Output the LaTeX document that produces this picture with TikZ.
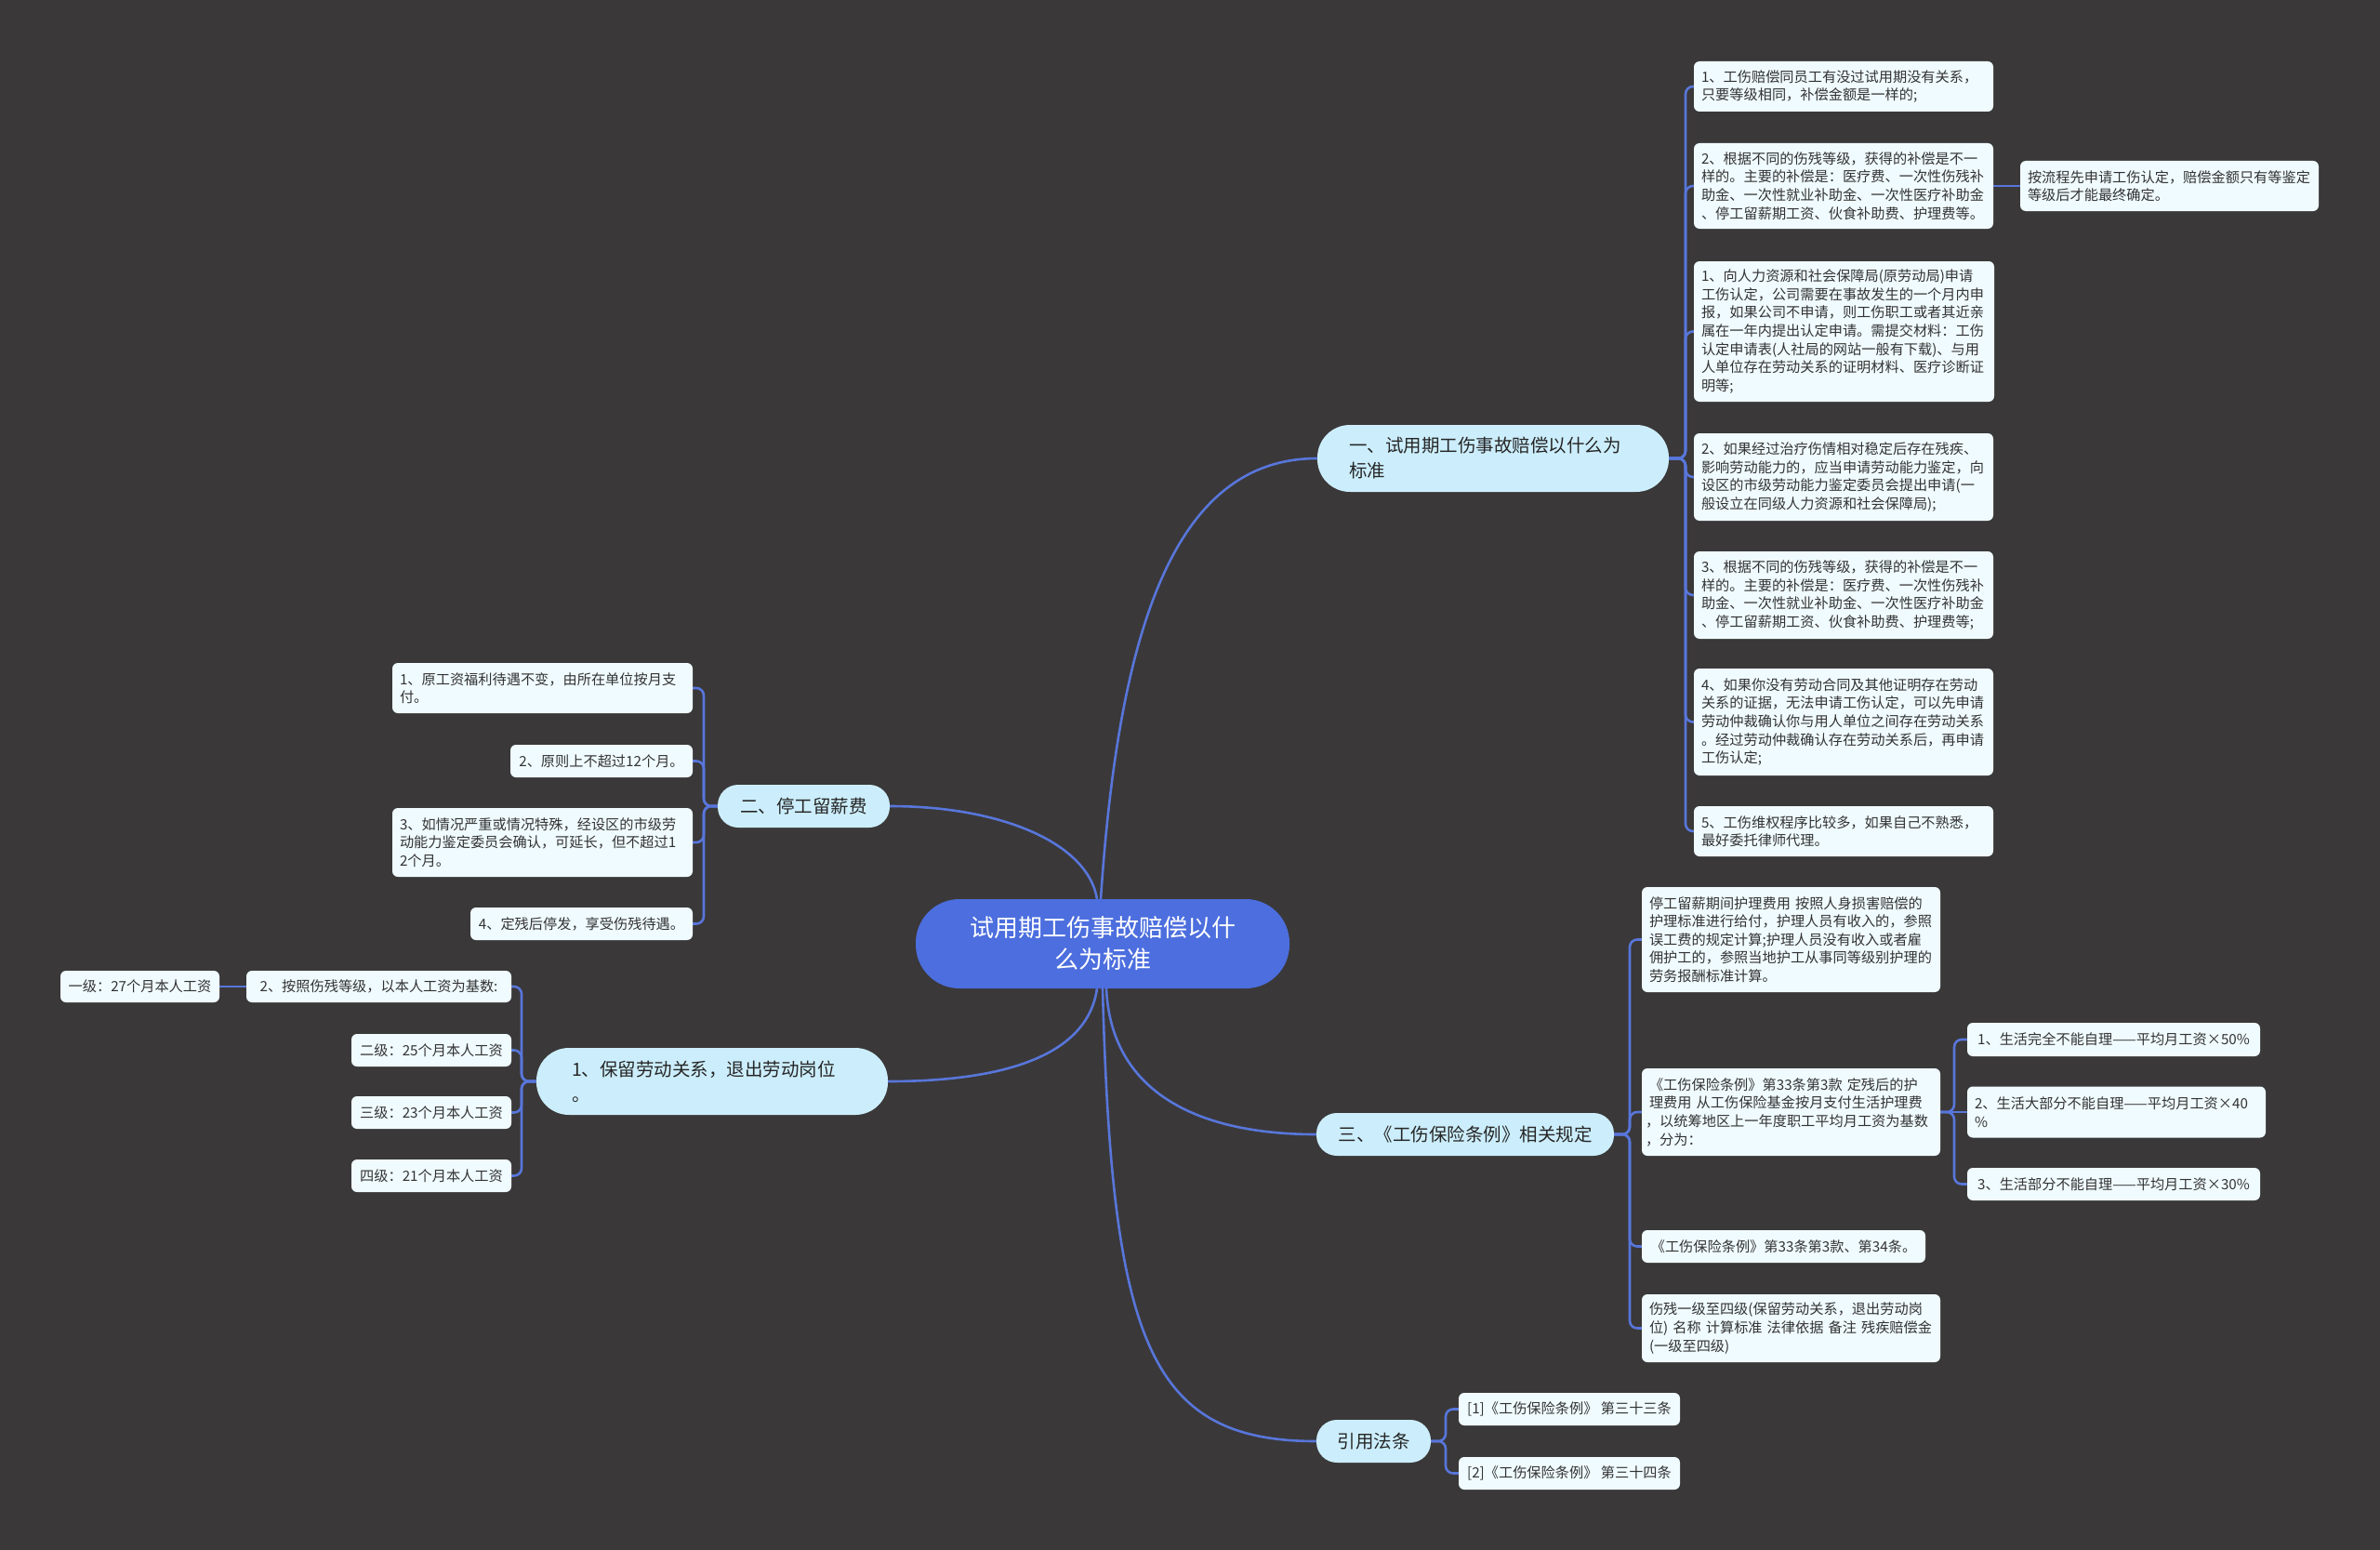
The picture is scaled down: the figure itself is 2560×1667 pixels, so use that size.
\documentclass[tikz,border=0pt]{standalone}
\usepackage{fontspec}
\setmainfont{Noto Sans CJK SC}
\usetikzlibrary{backgrounds}
\definecolor{bgc}{RGB}{58,56,57}
\definecolor{ctr}{RGB}{76,110,222}
\definecolor{brc}{RGB}{204,238,252}
\definecolor{lfc}{RGB}{240,251,255}
\definecolor{lnc}{RGB}{88,118,218}
\definecolor{txc}{RGB}{51,51,51}
\begin{document}
\begin{tikzpicture}[x=1pt,y=-1pt,
  leaf/.style={rectangle, rounded corners=6pt, fill=lfc, text=txc,
    font=\fontsize{15.2}{19.6}\selectfont, inner xsep=8pt, inner ysep=0pt, align=left},
  leafc/.style={leaf, align=center},
  branch/.style={rectangle, fill=brc, text=black!85,
    font=\fontsize{19.5}{27}\selectfont, inner ysep=0pt},
  conn/.style={draw=lnc, line width=2.6pt},
  bk/.style={conn, rounded corners=8pt}]
\useasboundingbox (0,0) rectangle (2560,1667);

% centre
\node[fill=ctr, rounded corners=47pt, minimum width=402pt, minimum height=96pt,
  text=white, font=\fontsize{26}{34}\selectfont, align=center, inner sep=0pt]
  (c) at (1186,1015) {试用期工伤事故赔偿以什\\么为标准};

% branches
\node[branch, rounded corners=35pt, minimum height=72pt, text width=310pt, align=left, inner xsep=34pt]
  (b1) at (1606,493) {一、试用期工伤事故赔偿以什么为\\标准};
\node[branch, rounded corners=22pt, minimum width=185pt, minimum height=46pt]
  (b2) at (864.5,867) {二、停工留薪费};
\node[branch, rounded corners=35pt, minimum height=72pt, text width=302pt, align=left, inner xsep=38pt]
  (b3) at (766,1163) {1、保留劳动关系，退出劳动岗位\\。};
\node[branch, rounded corners=22pt, minimum width=320pt, minimum height=46pt]
  (b4) at (1576,1220) {三、《工伤保险条例》相关规定};
\node[branch, rounded corners=22pt, minimum width=123pt, minimum height=46pt]
  (b5) at (1477.5,1550) {引用法条};

% branch 1 leaves
\node[leaf, text width=306pt, minimum height=54pt] (l1) at (1983,93)
  {1、工伤赔偿同员工有没过试用期没有关系，\\只要等级相同，补偿金额是一样的;};
\node[leaf, text width=306pt, minimum height=92pt] (l2) at (1983,200)
  {2、根据不同的伤残等级，获得的补偿是不一\\样的。主要的补偿是：医疗费、一次性伤残补\\助金、一次性就业补助金、一次性医疗补助金\\、停工留薪期工资、伙食补助费、护理费等。};
\node[leaf, text width=305pt, minimum height=54pt] (s1) at (2333.5,200)
  {按流程先申请工伤认定，赔偿金额只有等鉴定\\等级后才能最终确定。};
\node[leaf, text width=307pt, minimum height=151pt] (l3) at (1983.5,356.5)
  {1、向人力资源和社会保障局(原劳动局)申请\\工伤认定，公司需要在事故发生的一个月内申\\报，如果公司不申请，则工伤职工或者其近亲\\属在一年内提出认定申请。需提交材料：工伤\\认定申请表(人社局的网站一般有下载)、与用\\人单位存在劳动关系的证明材料、医疗诊断证\\明等;};
\node[leaf, text width=306pt, minimum height=94pt] (l4) at (1983,513)
  {2、如果经过治疗伤情相对稳定后存在残疾、\\影响劳动能力的，应当申请劳动能力鉴定，向\\设区的市级劳动能力鉴定委员会提出申请(一\\般设立在同级人力资源和社会保障局);};
\node[leaf, text width=306pt, minimum height=94pt] (l5) at (1983,640)
  {3、根据不同的伤残等级，获得的补偿是不一\\样的。主要的补偿是：医疗费、一次性伤残补\\助金、一次性就业补助金、一次性医疗补助金\\、停工留薪期工资、伙食补助费、护理费等;};
\node[leaf, text width=306pt, minimum height=115pt] (l6) at (1983,776.5)
  {4、如果你没有劳动合同及其他证明存在劳动\\关系的证据，无法申请工伤认定，可以先申请\\劳动仲裁确认你与用人单位之间存在劳动关系\\。经过劳动仲裁确认存在劳动关系后，再申请\\工伤认定;};
\node[leaf, text width=306pt, minimum height=54pt] (l7) at (1983,894)
  {5、工伤维权程序比较多，如果自己不熟悉，\\最好委托律师代理。};

% branch 2 leaves
\node[leaf, text width=307pt, minimum height=54pt] (a1) at (583.5,740)
  {1、原工资福利待遇不变，由所在单位按月支\\付。};
\node[leafc, minimum width=196pt, minimum height=35pt] (a2) at (647,818.5)
  {2、原则上不超过12个月。};
\node[leaf, text width=307pt, minimum height=74pt] (a3) at (583.5,906)
  {3、如情况严重或情况特殊，经设区的市级劳\\动能力鉴定委员会确认，可延长，但不超过1\\2个月。};
\node[leafc, minimum width=239pt, minimum height=35pt] (a4) at (625.5,993.5)
  {4、定残后停发，享受伤残待遇。};

% branch 3 leaves
\node[leafc, minimum width=285pt, minimum height=34pt] (e1) at (407.5,1061)
  {2、按照伤残等级，以本人工资为基数:};
\node[leafc, minimum width=171pt, minimum height=34pt] (e0) at (150.5,1061)
  {一级：27个月本人工资};
\node[leafc, minimum width=172pt, minimum height=35pt] (e2) at (464,1129.5)
  {二级：25个月本人工资};
\node[leafc, minimum width=172pt, minimum height=35pt] (e3) at (464,1196.5)
  {三级：23个月本人工资};
\node[leafc, minimum width=172pt, minimum height=35pt] (e4) at (464,1264.5)
  {四级：21个月本人工资};

% branch 4 leaves
\node[leaf, text width=305pt, minimum height=113pt] (m1) at (1926.5,1010.5)
  {停工留薪期间护理费用 按照人身损害赔偿的\\护理标准进行给付，护理人员有收入的，参照\\误工费的规定计算;护理人员没有收入或者雇\\佣护工的，参照当地护工从事同等级别护理的\\劳务报酬标准计算。};
\node[leaf, text width=313pt, inner xsep=4pt, minimum height=94pt] (m2) at (1926.5,1196)
  {\hspace{4pt}《工伤保险条例》第33条第3款 定残后的护\\\hspace{4pt}理费用 从工伤保险基金按月支付生活护理费\\，以统筹地区上一年度职工平均月工资为基数\\，分为：};
\node[leafc, minimum width=305pt, minimum height=35pt] (m3) at (1918.5,1340.5)
  {《工伤保险条例》第33条第3款、第34条。};
\node[leaf, text width=305pt, minimum height=73pt] (m4) at (1926.5,1428.5)
  {伤残一级至四级(保留劳动关系，退出劳动岗\\位) 名称 计算标准 法律依据 备注 残疾赔偿金\\(一级至四级)};

\node[leafc, minimum width=315pt, minimum height=36pt] (n1) at (2273.5,1118)
  {1、生活完全不能自理——平均月工资×50\%};
\node[leaf, text width=305pt, minimum height=55pt] (n2) at (2276.5,1196)
  {2、生活大部分不能自理——平均月工资×40\\\%};
\node[leafc, minimum width=315pt, minimum height=35pt] (n3) at (2273.5,1273.5)
  {3、生活部分不能自理——平均月工资×30\%};

% branch 5 leaves
\node[leafc, minimum width=238pt, minimum height=35pt] (r1) at (1688,1515.5)
  {[1]《工伤保险条例》 第三十三条};
\node[leafc, minimum width=238pt, minimum height=35pt] (r2) at (1688,1584.5)
  {[2]《工伤保险条例》 第三十四条};

\coordinate (v1) at (1813,0);
\coordinate (v2) at (757,0);
\coordinate (v3) at (561,0);
\coordinate (v4) at (1753,0);
\coordinate (v5) at (2102,0);
\coordinate (v6) at (1555,0);

\begin{pgfonlayer}{background}
\fill[bgc] (0,0) rectangle (2560,1667);
% centre to branches
\draw[conn] ([xshift=-2pt]c.north) .. controls +(20,-300) and +(-150,0) .. (b1.west);
\draw[conn] ([xshift=-6pt]c.north) .. controls +(-10,-60) and +(120,0) .. (b2.east);
\draw[conn] ([xshift=-6pt]c.south) .. controls +(-10,70) and +(130,0) .. (b3.east);
\draw[conn] ([xshift=4pt]c.south) .. controls +(5,110) and +(-130,0) .. (b4.west);
\draw[conn] (c.south) .. controls +(10,380) and +(-180,0) .. (b5.west);
% branch 1
\foreach \n in {l1,l2,l3,l4,l5,l6,l7}
  \draw[bk] (b1.east) -| (v1 |- \n.west) -- (\n.west);
\draw[conn] (l2.east) -- (s1.west);
% branch 2
\foreach \n in {a1,a2,a3,a4}
  \draw[bk] (b2.west) -| (v2 |- \n.east) -- (\n.east);
% branch 3
\foreach \n in {e1,e2,e3,e4}
  \draw[bk] (b3.west) -| (v3 |- \n.east) -- (\n.east);
\draw[conn] (e1.west) -- (e0.east);
% branch 4
\foreach \n in {m1,m2,m3,m4}
  \draw[bk] (b4.east) -| (v4 |- \n.west) -- (\n.west);
\draw[bk] (m2.east) -| (v5 |- n1.west) -- (n1.west);
\draw[bk] (m2.east) -| (v5 |- n3.west) -- (n3.west);
\draw[conn] (m2.east) -- (n2.west);
% branch 5
\foreach \n in {r1,r2}
  \draw[bk] (b5.east) -| (v6 |- \n.west) -- (\n.west);
\end{pgfonlayer}
\end{tikzpicture}
\end{document}
